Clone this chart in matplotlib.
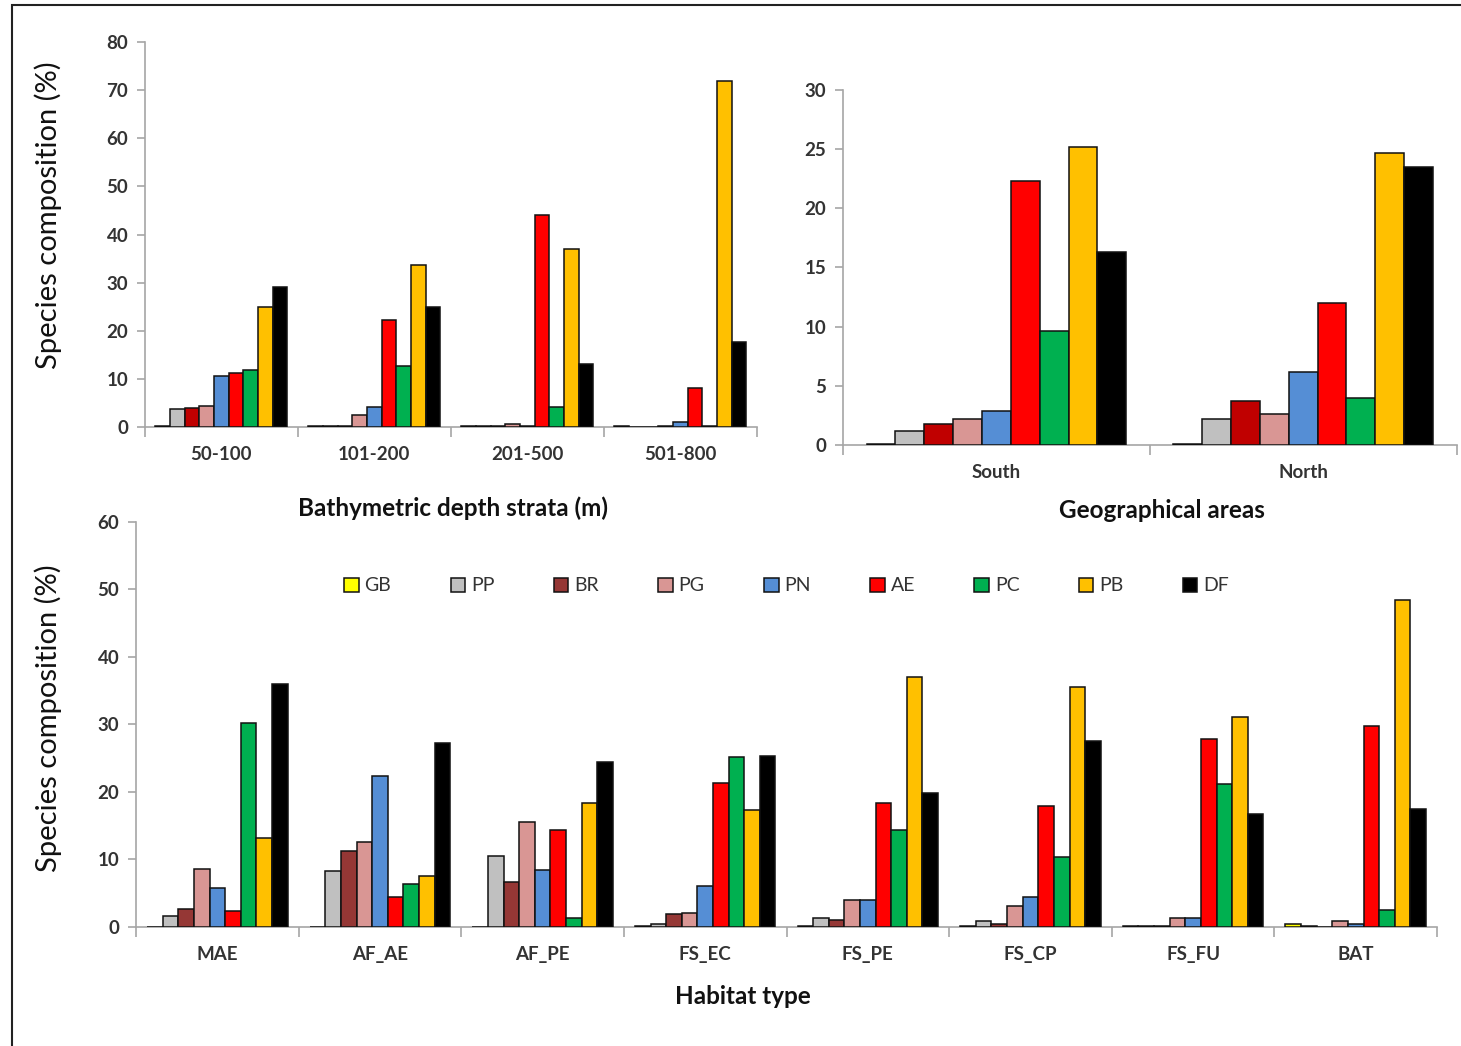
import numpy as np
import matplotlib.pyplot as plt
from matplotlib.patches import Rectangle

series = ['GB', 'PP', 'BR', 'PG', 'PN', 'AE', 'PC', 'PB', 'DF']

depth_labels = ['50-100', '101-200', '201-500', '501-800']
depth_vals = {
    'GB': [0.2, 0.2, 0.2, 0.3],
    'PP': [3.7, 0.2, 0.2, 0.0],
    'BR': [4.0, 0.2, 0.2, 0.0],
    'PG': [4.4, 2.4, 0.6, 0.2],
    'PN': [10.6, 4.1, 0.2, 1.0],
    'AE': [11.2, 22.2, 44.0, 8.2],
    'PC': [11.8, 12.6, 4.2, 0.2],
    'PB': [25.0, 33.6, 37.0, 72.0],
    'DF': [29.0, 25.0, 13.0, 17.6],
}

area_labels = ['South', 'North']
area_vals = {
    'GB': [0.1, 0.1],
    'PP': [1.2, 2.2],
    'BR': [1.8, 3.7],
    'PG': [2.2, 2.6],
    'PN': [2.9, 6.2],
    'AE': [22.3, 12.0],
    'PC': [9.6, 4.0],
    'PB': [25.2, 24.7],
    'DF': [16.3, 23.5],
}

habitat_labels = ['MAE', 'AF_AE', 'AF_PE', 'FS_EC', 'FS_PE', 'FS_CP', 'FS_FU', 'BAT']
habitat_vals = {
    'GB': [0.0, 0.0, 0.0, 0.2, 0.2, 0.2, 0.2, 0.4],
    'PP': [1.6, 8.3, 10.5, 0.4, 1.4, 0.9, 0.2, 0.2],
    'BR': [2.6, 11.2, 6.6, 1.9, 1.1, 0.4, 0.2, 0.0],
    'PG': [8.6, 12.6, 15.5, 2.1, 4.0, 3.1, 1.4, 0.9],
    'PN': [5.8, 22.3, 8.4, 6.1, 4.0, 4.5, 1.4, 0.4],
    'AE': [2.3, 4.4, 14.4, 21.3, 18.4, 17.9, 27.8, 29.7],
    'PC': [30.2, 6.4, 1.4, 25.2, 14.3, 10.3, 21.2, 2.5],
    'PB': [13.2, 7.6, 18.4, 17.3, 37.0, 35.5, 31.1, 48.4],
    'DF': [36.0, 27.2, 24.4, 25.4, 19.8, 27.5, 16.7, 17.5],
}

colors_top = ['#FFFF00', '#C0C0C0', '#C00000', '#D99694', '#558ED5',
              '#FF0000', '#00B050', '#FFC000', '#000000']
colors_bottom = ['#FFFF00', '#C0C0C0', '#953735', '#D99694', '#558ED5',
                 '#FF0000', '#00B050', '#FFC000', '#000000']

plt.rcParams['font.family'] = ['Lato', 'DejaVu Sans']

fig = plt.figure(figsize=(14.61, 10.46), dpi=100)
fig.patches.append(Rectangle((0.0082, -0.02), 1.1, 0.9952 + 0.02, transform=fig.transFigure,
                             fill=False, edgecolor='#222222', linewidth=1.5))

spine_col = '#A6A6A6'
tick_col = '#333333'


def draw(ax, labels, vals, colors, ymax, ystep, width):
    n = len(labels)
    x = np.arange(n)
    for i, s in enumerate(series):
        off = (i - 4) * width
        ax.bar(x + off, vals[s], width, color=colors[i], edgecolor='#111111',
               linewidth=1.1, label=s, zorder=3)
    ax.set_xlim(-0.5, n - 0.5)
    ax.set_ylim(0, ymax)
    ax.set_yticks(np.arange(0, ymax + 0.1, ystep))
    ax.set_xticks(x)
    ax.set_xticklabels(labels)
    ax.set_xticks(np.arange(-0.5, n, 1.0), minor=True)
    ax.tick_params(axis='x', which='major', length=0, pad=14)
    ax.tick_params(axis='x', which='minor', length=7, direction='out', color=spine_col, width=1.2)
    ax.tick_params(axis='y', length=6, direction='out', color=spine_col, width=1.2, pad=6)
    for lab in ax.get_xticklabels() + ax.get_yticklabels():
        lab.set_fontsize(13.5)
        lab.set_fontweight('bold')
        lab.set_color(tick_col)
    for sp in ['top', 'right']:
        ax.spines[sp].set_visible(False)
    for sp in ['left', 'bottom']:
        ax.spines[sp].set_color(spine_col)
        ax.spines[sp].set_linewidth(1.2)


ax1 = fig.add_axes([0.0992, 0.5918, 0.4188, 0.368])
draw(ax1, depth_labels, depth_vals, colors_top, 80, 10, 0.096)

ax2 = fig.add_axes([0.577, 0.5746, 0.42, 0.3394])
draw(ax2, area_labels, area_vals, colors_top, 30, 5, 0.094)

ax3 = fig.add_axes([0.0931, 0.1138, 0.8905, 0.3872])
draw(ax3, habitat_labels, habitat_vals, colors_bottom, 60, 10, 0.096)

leg = ax3.legend(loc='center', bbox_to_anchor=(0.5, 0.842), ncol=9, frameon=False,
                 fontsize=14, handlelength=0.75, handleheight=0.75, handletextpad=0.3,
                 columnspacing=3.05)
for t in leg.get_texts():
    t.set_color(tick_col)

fig.text(453 / 1461, 1 - 508 / 1046, 'Bathymetric depth strata (m)', ha='center', va='center',
         fontsize=17.5, fontweight='bold', color='#111111')
fig.text(1162 / 1461, 1 - 511 / 1046, 'Geographical areas', ha='center', va='center',
         fontsize=17.5, fontweight='bold', color='#111111')
fig.text(743 / 1461, 1 - 997 / 1046, 'Habitat type', ha='center', va='center',
         fontsize=17.5, fontweight='bold', color='#111111')

fig.text(48 / 1461, 1 - 215 / 1046, 'Species composition (%)', ha='center', va='center',
         rotation=90, fontsize=21, color='#111111')
fig.text(48 / 1461, 1 - 718 / 1046, 'Species composition (%)', ha='center', va='center',
         rotation=90, fontsize=21, color='#111111')

plt.savefig('out.png', dpi=100)
